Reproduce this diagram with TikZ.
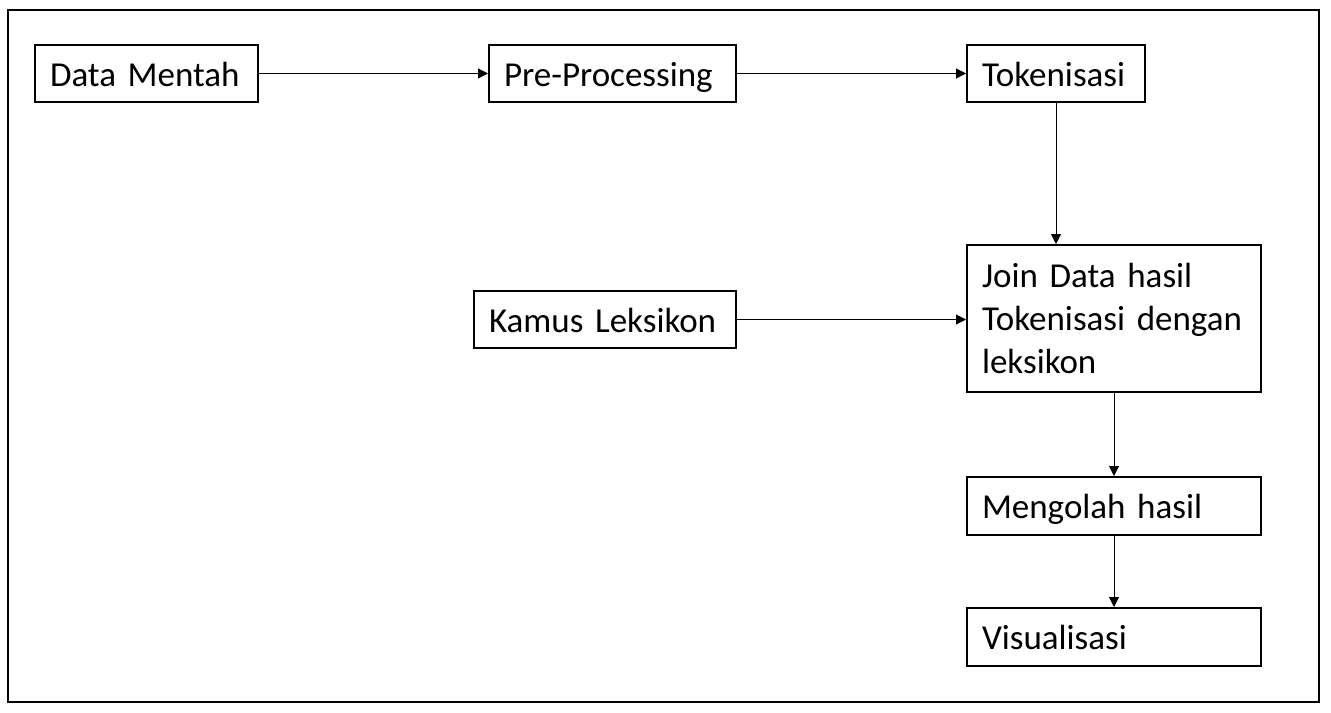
\documentclass[tikz,border=0pt]{standalone}
\usepackage{fontspec}
\setmainfont{Carlito}
\usetikzlibrary{arrows.meta}
\begin{document}
\begin{tikzpicture}[x=0.75pt,y=0.75pt,yscale=-1,xscale=1,
  font=\fontsize{26.25pt}{32pt}\selectfont,
  stepbox/.style={draw, line width=1.5pt, inner xsep=11.25pt, inner ysep=0pt, align=left,
    text height=22pt, text depth=3.2pt, minimum height=42.75pt},
  flow/.style={line width=0.75pt, -{Triangle[length=7.5pt,width=7.5pt]}}]
\useasboundingbox (0,0) rectangle (1331,713);

%Shape: Rectangle [id:frame] 
\draw [line width=1.5pt] (8,10) rectangle (1319,702) ;

% Text Node
\node [stepbox, text width=144.75pt] (mentah) at (146.5,73.5) {Data Mentah};
% Text Node
\node [stepbox, text width=162.75pt] (prepro) at (612.5,73.5) {Pre-Processing};
% Text Node
\node [stepbox, text width=111pt] (token) at (1056,73.5) {Tokenisasi};
% Text Node
\node [stepbox, text width=174pt] (kamus) at (605,319.5) {Kamus Leksikon};
% Text Node
\node [draw, line width=1.5pt, inner xsep=11.25pt, inner ysep=0pt, align=left, text width=198pt, minimum height=110.25pt] (join) at (1114,318.5) {Join Data hasil\\Tokenisasi dengan\\leksikon};
% Text Node
\node [stepbox, text width=198pt, minimum height=43.5pt] (olah) at (1114,506) {Mengolah hasil};
% Text Node
\node [stepbox, text width=198pt, minimum height=43.5pt] (visual) at (1114,637) {Visualisasi};

%Straight Lines
\draw [flow] (mentah) -- (prepro) ;
%Straight Lines
\draw [flow] (prepro) -- (token) ;
%Straight Lines
\draw [flow] (token) -- (token |- join.north) ;
%Straight Lines
\draw [flow] (kamus) -- (kamus -| join.west) ;
%Straight Lines
\draw [flow] (join) -- (olah) ;
%Straight Lines
\draw [flow] (olah) -- (visual) ;

\end{tikzpicture}
\end{document}
